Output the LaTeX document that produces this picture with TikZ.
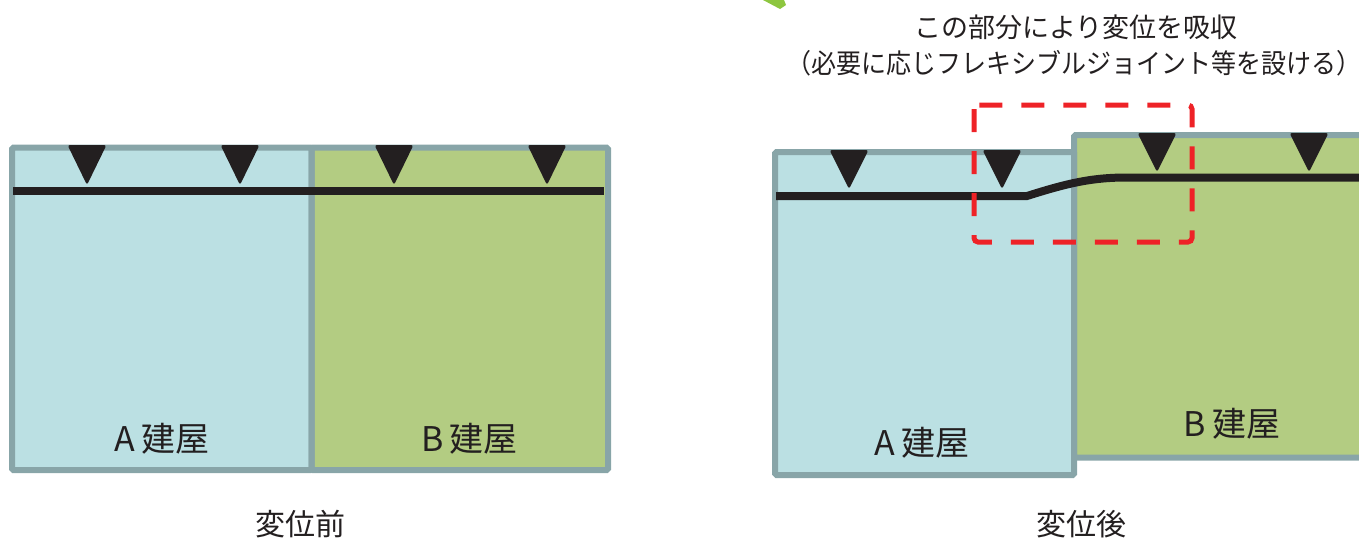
\documentclass[tikz,border=0pt]{standalone}
\usepackage{fontspec}
\setmainfont{Noto Sans CJK JP}
\definecolor{bldA}{HTML}{BBE0E3}
\definecolor{bldB}{HTML}{B3CC82}
\definecolor{wallc}{HTML}{88A5A8}
\definecolor{inkc}{HTML}{231F20}
\definecolor{redc}{HTML}{EE2227}
\definecolor{greenc}{HTML}{8DC63F}
\tikzset{
  bldbox/.style={draw=wallc, line width=6pt, rounded corners=1.5pt},
  tri/.style={fill=inkc, rounded corners=2.5pt},
  pipe/.style={draw=inkc, line width=8pt},
  lbl/.style={inner sep=0pt, font=\fontsize{34}{36}\selectfont, text=inkc},
  captext/.style={inner sep=0pt, font=\fontsize{30}{34}\selectfont, text=inkc},
  notetext/.style={inner sep=0pt, font=\fontsize{27}{30}\selectfont, text=inkc},
  jointbox/.style={draw=redc, line width=5pt, dash pattern=on 23pt off 19pt, rounded corners=4pt}
}
\newcommand{\mytri}[3]{\fill[tri] (#1-19.5,#2) -- (#1+19.5,#2) -- (#1,#2+#3) -- cycle;}
\begin{document}
\begin{tikzpicture}[x=1pt,y=-1pt]
\useasboundingbox (0,0) rectangle (1359,539);
\clip (0,0) rectangle (1359,539);
% green fragment at top edge
\fill[greenc] (763,0) -- (784,0) -- (786,5) -- (780,9) -- cycle;

% ---------- before displacement ----------
\fill[bldA] (12,147.5) rectangle (311.5,470);
\fill[bldB] (311.5,147.5) rectangle (608,470);
\draw[bldbox] (12,147.5) rectangle (311.5,470);
\draw[bldbox] (311.5,147.5) rectangle (608,470);
\mytri{87}{145}{40}
\mytri{240}{145}{40}
\mytri{394}{145}{40}
\mytri{547}{145}{40}
\coordinate (pl1) at (13,191);
\coordinate (pl2) at (604,191);
\draw[pipe] (pl1) -- (pl2);
\node[lbl] (la) at (162,439) {A\hspace{6pt}建屋};
\node[lbl] (lb) at (469.5,439) {B\hspace{6pt}建屋};
\node[captext] (lcap) at (300,524) {変位前};

% ---------- after displacement ----------
\fill[bldB] (1074,135) rectangle (1380,457.5);
\draw[bldbox] (1074,135) rectangle (1380,457.5);
\fill[bldA] (775,152) rectangle (1074,475);
\draw[bldbox] (775,152) rectangle (1074,475);
\mytri{849}{150}{39}
\mytri{1002}{150}{39}
\mytri{1157}{133}{39}
\mytri{1309}{133}{39}
\coordinate (pr1) at (776,196);
\coordinate (pr2) at (1027,196);
\coordinate (pr3) at (1127,177.5);
\coordinate (pr4) at (1362,177.5);
\draw[pipe] (pr1) -- (pr2) .. controls (1068,183) and (1092,177.5) .. (pr3) -- (pr4);
\node[lbl] (ra) at (922,443) {A\hspace{6pt}建屋};
\node[lbl] (rb) at (1232,424) {B\hspace{6pt}建屋};
\node[captext] (rcap) at (1081,524.5) {変位後};

% joint region
\draw[jointbox] (974,105) rectangle (1192,242);
\node[notetext] (n1) at (1076,27) {この部分により変位を吸収};
\node[notetext, xscale=0.926] (n2) at (1074,63) {（必要に応じフレキシブルジョイント等を設ける）};
\end{tikzpicture}
\end{document}
